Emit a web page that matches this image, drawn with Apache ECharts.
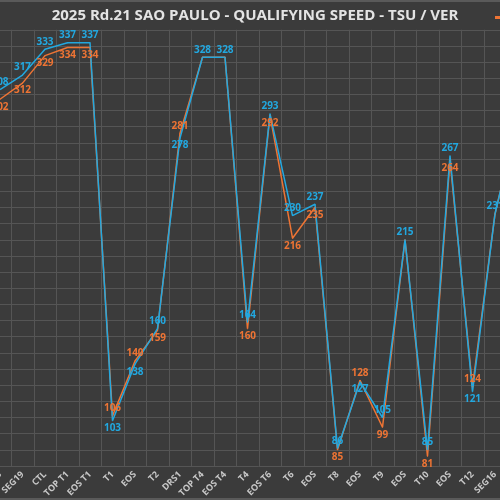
<!DOCTYPE html>
<html>
<head>
<meta charset="utf-8">
<script src="https://cdn.jsdelivr.net/npm/echarts@6/dist/echarts.min.js"></script>
<style>
html, body { margin: 0; padding: 0; background: #3b3b3b; overflow: hidden; }
#main { position: absolute; left: -50px; top: 0; width: 660px; height: 500px; }
.edge { position: absolute; left: 0; width: 500px; height: 2px; background: #5a5a5a; z-index: 2; }
</style>
</head>
<body>
<div id="main"></div>
<div class="edge" style="top:0"></div>
<div class="edge" style="bottom:0"></div>
<script>
// corner names along the lap (first and last are cut off in the picture)
var corners = ['SEG18', 'SEG19', 'CTL', 'TOP T1', 'EOS T1', 'T1', 'EOS', 'T2', 'DRS1', 'TOP T4', 'EOS T4', 'T4',
    'EOS T6', 'T6', 'EOS', 'T8', 'EOS', 'T9', 'EOS', 'T10', 'EOS', 'T12', 'SEG16', 'EOS'];

// speeds in km/h
var tsu = [302, 312, 329, 334, 334, 106, 140, 159, 281, 328, 328, 160, 292, 216, 235, 85, 128, 99, 215, 81, 264, 124, 231, 290];
var ver = [308, 317, 333, 337, 337, 103, 138, 160, 278, 328, 328, 164, 293, 230, 237, 86, 127, 105, 215, 85, 267, 121, 231, 290];

var drivers = ['TSU', 'VER'];
var colors = ['#ee7434', '#22a8e0'];

// faster car gets its label above the point, slower one below
function points(own, other, front) {
    return own.map(function (v, i) {
        var tie = v === other[i];
        return {
            value: v,
            label: {
                show: !(tie && !front),
                position: (v > other[i] || (tie && front)) ? 'top' : 'bottom'
            }
        };
    });
}

function serie(name, values, other, color, front) {
    return {
        name: name,
        type: 'line',
        data: points(values, other, front),
        symbol: 'circle',
        symbolSize: 1,
        itemStyle: { color: color },
        lineStyle: { color: color, width: 1.5 },
        label: {
            show: true,
            color: color,
            fontSize: 10,
            fontWeight: 'bold',
            fontFamily: 'Open Sans',
            distance: 2
        }
    };
}

var myChart = echarts.init(document.getElementById('main'));
var option = {
    animation: false,
    backgroundColor: '#3b3b3b',
    title: {
        text: '2025 Rd.21 SAO PAULO - QUALIFYING SPEED - TSU / VER',
        left: 300,
        textAlign: 'center',
        top: 3,
        textStyle: { color: '#e4e4e4', fontSize: 15, fontWeight: 'bold', fontFamily: 'Open Sans' }
    },
    legend: {
        data: drivers,
        left: 540,
        top: 7,
        icon: 'rect',
        itemWidth: 18,
        itemHeight: 3,
        textStyle: { color: '#dddddd', fontWeight: 'bold', fontSize: 11 }
    },
    grid: { left: 38.75, right: 81.25, top: 29.8, bottom: 34 },
    xAxis: {
        type: 'category',
        data: corners,
        boundaryGap: true,
        axisLine: { show: false },
        axisTick: { show: false },
        splitLine: { show: true, interval: 0, lineStyle: { color: '#555555', width: 1 } },
        axisLabel: {
            interval: 0,
            rotate: 45,
            margin: 7,
            fontSize: 9,
            fontWeight: 'bold',
            fontFamily: 'Open Sans',
            color: '#c8c8c8'
        }
    },
    yAxis: [{
        type: 'value',
        min: 75,
        max: 345,
        axisLine: { show: false },
        axisTick: { show: false },
        axisLabel: { show: false },
        splitLine: { show: false }
    }, {
        // grid lines every 10 km/h from 75 up to 345
        type: 'value',
        min: 0,
        max: 27,
        interval: 1,
        axisLine: { show: false },
        axisTick: { show: false },
        axisLabel: { show: false },
        splitLine: { show: true, lineStyle: { color: '#555555', width: 1 } }
    }],
    series: [
        serie(drivers[0], tsu, ver, colors[0], false),
        serie(drivers[1], ver, tsu, colors[1], true)
    ]
};

if (option && typeof option === 'object') {
    myChart.setOption(option);
}
</script>
</body>
</html>
